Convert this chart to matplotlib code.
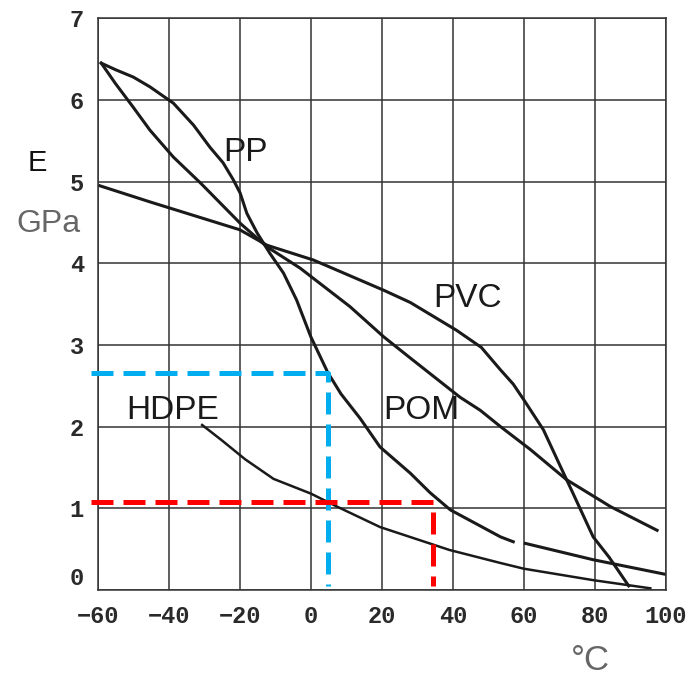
import matplotlib
matplotlib.use("Agg")
import matplotlib.pyplot as plt

# curves (x = degC, y = E in GPa)
pp_x = [-59, -55, -50, -45.3, -38.7, -33, -28.4, -24.7, -21.8, -19.9, -18, -15.1, -11.5, -7.7, -4, 0, 4.8, 8.5,
        13.9, 19.5, 28, 33.6, 39.3, 47, 53.4, 57]
pp_y = [6.45, 6.37, 6.28, 6.16, 5.96, 5.69, 5.42, 5.23, 5.02, 4.86, 4.61, 4.37, 4.12, 3.88, 3.55, 3.1, 2.66, 2.4,
        2.1, 1.75, 1.43, 1.19, 0.98, 0.8, 0.65, 0.59]
pp2_x = [60.4, 79.5, 100]
pp2_y = [0.57, 0.37, 0.19]

pom_x = [-59, -55, -50, -45.3, -38.7, -31, -19.9, -12.3, -3, 11, 20.5, 28, 42, 47.7, 53.4, 61.8, 72, 84.4, 97.5]
pom_y = [6.45, 6.2, 5.91, 5.63, 5.3, 4.98, 4.49, 4.2, 3.94, 3.47, 3.1, 2.84, 2.36, 2.2, 2.0, 1.72, 1.35, 1.02, 0.73]

pvc_x = [-59.5, -45.2, -20, -12.3, 0.7, 20.5, 28, 41, 48, 53.3, 57, 60.4, 65.5, 70.3, 73, 79.5, 84, 89.5]
pvc_y = [4.95, 4.75, 4.41, 4.22, 4.04, 3.67, 3.52, 3.18, 2.97, 2.7, 2.52, 2.3, 1.96, 1.51, 1.26, 0.65, 0.4, 0.05]

hdpe_x = [-30.6, -25, -18.5, -10.5, 0, 7.4, 19.5, 39, 53.4, 60, 79.5, 95.6]
hdpe_y = [2.02, 1.83, 1.6, 1.36, 1.18, 1.02, 0.77, 0.49, 0.33, 0.26, 0.12, 0.02]

blue_x = [-62, 4.8, 4.8]
blue_y = [2.66, 2.66, 0.05]
red_x = [-62, 34.5, 34.5]
red_y = [1.08, 1.08, 0.05]

xticks = [-60, -40, -20, 0, 20, 40, 60, 80, 100]
xlabels = ["\u221260", "\u221240", "\u221220", "0", "20", "40", "60", "80", "100"]
yticks = [0, 1, 2, 3, 4, 5, 6, 7]

fig = plt.figure(figsize=(6.93, 6.75), dpi=100)
ax = fig.add_axes([0.141, 0.126, 0.820, 0.847])

lc = "#1a1a1a"
lw = 2.2
ax.plot(pp_x, pp_y, color=lc, lw=lw, solid_joinstyle="round")
ax.plot(pp2_x, pp2_y, color=lc, lw=lw, solid_joinstyle="round")
ax.plot(pom_x, pom_y, color=lc, lw=lw, solid_joinstyle="round")
ax.plot(pvc_x, pvc_y, color=lc, lw=lw, solid_joinstyle="round")
ax.plot(hdpe_x, hdpe_y, color=lc, lw=1.8, solid_joinstyle="round")

ax.plot(blue_x, blue_y, color="#00aeef", lw=3.6, dashes=(4.4, 2.0), clip_on=False, zorder=5)
ax.plot(red_x, red_y, color="#ff0000", lw=3.6, dashes=(4.4, 2.0), clip_on=False, zorder=5)

ax.set_xlim(-60, 100)
ax.set_ylim(0, 7)
ax.set_xticks(xticks)
ax.set_xticklabels(xlabels)
ax.set_yticks(yticks)
ax.grid(True, color="#333333", lw=1.1)
ax.set_axisbelow(True)
for s in ax.spines.values():
    s.set_color("#333333")
    s.set_linewidth(1.1)
ax.tick_params(length=0, pad=11)
ax.tick_params(axis="y", pad=10)
for lbl in ax.get_xticklabels() + ax.get_yticklabels():
    lbl.set_fontfamily("Liberation Mono")
    lbl.set_fontweight("bold")
    lbl.set_fontsize(17)
    lbl.set_color("#2a2a2a")
ax.yaxis.get_major_ticks()[0].label1.set_va("bottom")

tf = dict(fontfamily="Liberation Sans", fontsize=24, color="#1a1a1a", ha="center", va="center")
ax.text(-18.5, 5.35, "PP", **tf)
ax.text(44, 3.57, "PVC", **tf)
ax.text(31, 2.2, "POM", **tf)
ax.text(-39, 2.2, "HDPE", **tf)

fig.text(37 / 693, 1 - 163 / 675, "E", fontfamily="Liberation Sans", fontsize=21,
         color="#111111", ha="center", va="center")
fig.text(48 / 693, 1 - 224 / 675, "GPa", fontfamily="Liberation Sans", fontsize=23,
         color="#666666", ha="center", va="center")
fig.text(590 / 693, 1 - 660 / 675, "\u00b0C", fontfamily="Liberation Sans", fontsize=25,
         color="#666666", ha="center", va="center")

fig.savefig("out.png", dpi=100, facecolor="white")
